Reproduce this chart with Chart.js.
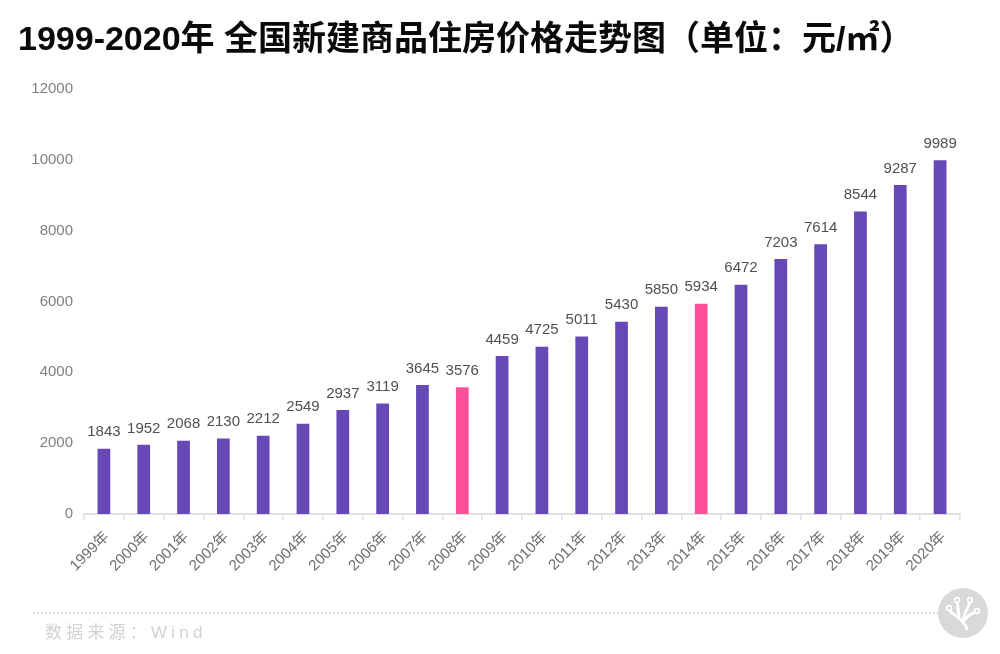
<!DOCTYPE html>
<html>
<head>
<meta charset="utf-8">
<script src="https://cdn.jsdelivr.net/npm/chart.js@4"></script>
<style>
  html, body { margin: 0; padding: 0; background: #fff; }
  body { width: 1000px; height: 654px; position: relative; overflow: hidden; font-family: "Liberation Sans", "Noto Sans CJK SC", sans-serif; }
  #wrap { position: absolute; left: 0; top: 0; width: 1000px; height: 654px; }
  #title { position: absolute; left: 18px; top: 18px; margin: 0; font-size: 34px; line-height: 40px; font-weight: bold; color: #0a0a0a; white-space: pre; }
  #rule { position: absolute; left: 33px; top: 612px; width: 910px; border-top: 2px dotted #dcdcdc; }
  #source { position: absolute; left: 45px; top: 621px; font-size: 17px; line-height: 24px; letter-spacing: 4.2px; color: #d2d2d2; }
  #logo { position: absolute; left: 938px; top: 588px; }
</style>
</head>
<body>
<div id="wrap"><canvas id="chart"></canvas></div>
<h1 id="title">1999-2020年 全国新建商品住房价格走势图（单位：元/㎡）</h1>
<div id="rule"></div>
<div id="source">数据来源：Wind</div>
<svg id="logo" width="50" height="50" viewBox="0 0 50 50">
  <circle cx="25" cy="25" r="25" fill="#d9d9d9"/>
  <g fill="none" stroke="#fff" stroke-width="2.8" stroke-linecap="round">
    <path d="M29 41 C27 34 22 31 17 27 C14 25 12 24 11 21"/>
    <path d="M21 28 C20 23 20 17 19 13"/>
    <path d="M25 33 C26 27 28 23 30 19 C31 16 32 15 32 13"/>
    <path d="M27 32 C30 26 35 25 38 24"/>
  </g>
  <g fill="#d9d9d9" stroke="#fff" stroke-width="1.6">
    <circle cx="11" cy="20" r="2.4"/><circle cx="19" cy="12" r="2.4"/><circle cx="32" cy="12" r="2.4"/><circle cx="39" cy="23" r="2.4"/>
  </g>
</svg>
<script>
const years = ['1999年','2000年','2001年','2002年','2003年','2004年','2005年','2006年','2007年','2008年','2009年','2010年','2011年','2012年','2013年','2014年','2015年','2016年','2017年','2018年','2019年','2020年'];
const prices = [1843,1952,2068,2130,2212,2549,2937,3119,3645,3576,4459,4725,5011,5430,5850,5934,6472,7203,7614,8544,9287,9989];
const highlighted = ['2008年','2014年'];
const yTicks = [0,2000,4000,6000,8000,10000,12000];

const FONT = '"Liberation Sans", "Noto Sans CJK SC", sans-serif';

// value labels above each bar
const barLabels = {
  id: 'barLabels',
  afterDatasetsDraw(chart) {
    const { ctx } = chart;
    ctx.save();
    ctx.font = '15px ' + FONT;
    ctx.fillStyle = '#505050';
    ctx.textAlign = 'center';
    ctx.textBaseline = 'bottom';
    chart.getDatasetMeta(0).data.forEach((bar, i) => {
      ctx.fillText(prices[i], bar.x, bar.y - 9);
    });
    ctx.restore();
  }
};

new Chart(document.getElementById('chart'), {
  type: 'bar',
  data: {
    labels: years,
    datasets: [{
      data: prices,
      backgroundColor: years.map(y => highlighted.includes(y) ? '#ff4f9b' : '#6649b7'),
      barPercentage: 0.32,
      categoryPercentage: 1
    }]
  },
  plugins: [barLabels],
  options: {
    responsive: true,
    maintainAspectRatio: false,
    animation: false,
    layout: { padding: { top: 89, right: 40, left: 0, bottom: 0 } },
    plugins: { legend: { display: false }, title: { display: false }, tooltip: { enabled: false } },
    scales: {
      x: {
        afterFit(scale) { scale.height = 140; },
        grid: { drawOnChartArea: false, drawTicks: true, tickLength: 6, color: '#e0e0e0', lineWidth: 1.5 },
        border: { color: '#e0e0e0', width: 2 },
        ticks: { color: '#6e6e6e', font: { size: 15, family: FONT }, minRotation: 45, maxRotation: 45, autoSkip: false, padding: 8, labelOffset: 3 }
      },
      y: {
        min: 0,
        max: 12000,
        afterFit(scale) { scale.width = 84; },
        afterBuildTicks(scale) { scale.ticks = yTicks.map(v => ({ value: v })); },
        grid: { display: false },
        border: { display: false },
        ticks: { color: '#7f7f7f', font: { size: 15, family: FONT }, padding: 3, callback: v => String(v) }
      }
    }
  }
});
</script>
</body>
</html>
